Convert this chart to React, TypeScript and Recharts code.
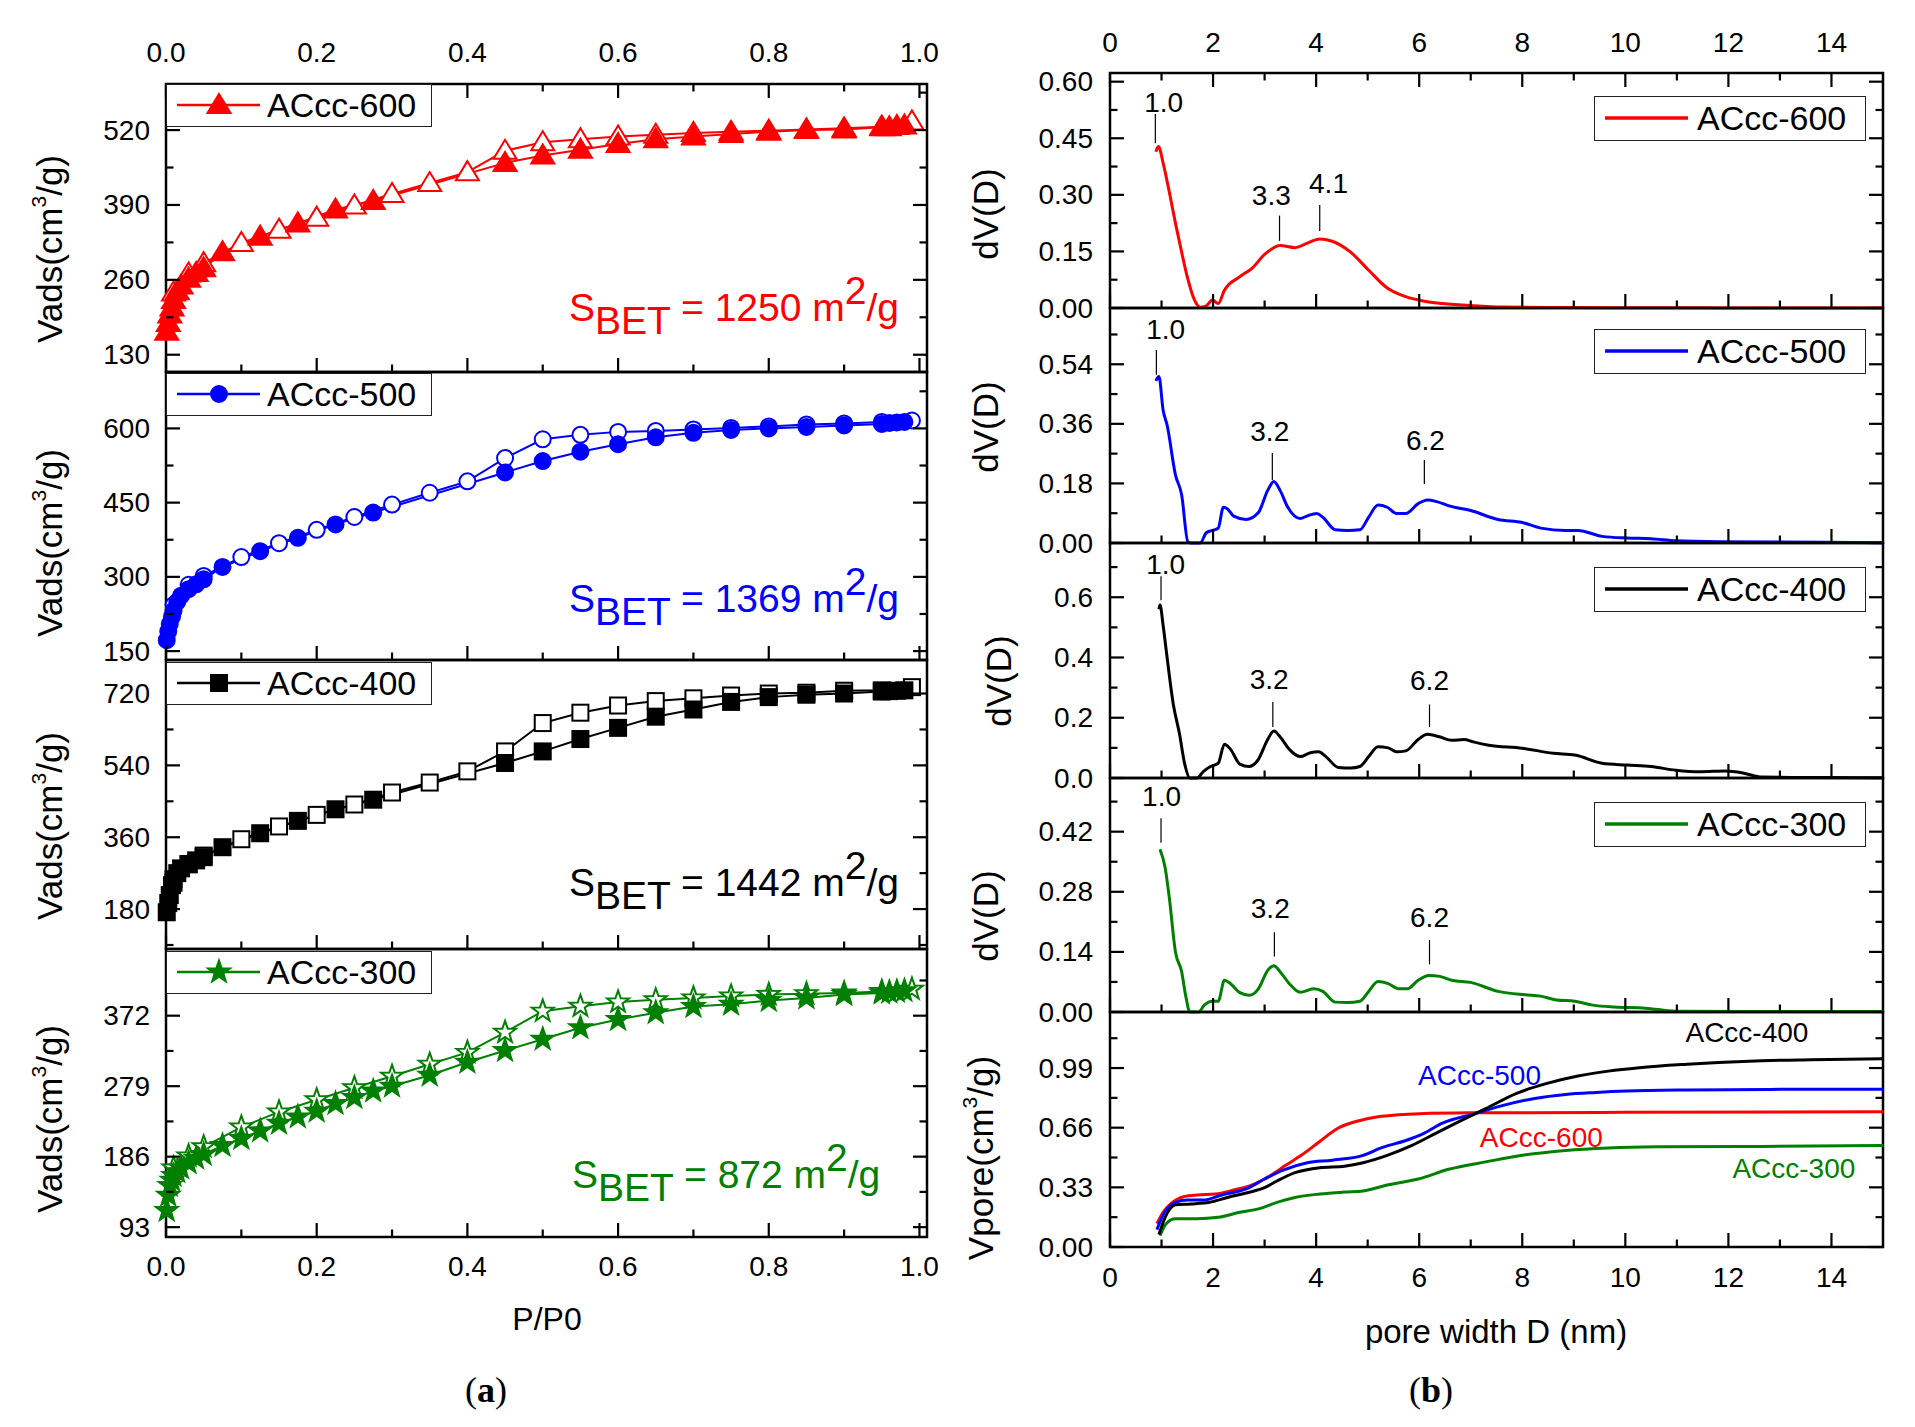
import React from 'react';
import { LineChart, Line, XAxis, YAxis, ReferenceArea } from 'recharts';

const FONT = "'Liberation Sans', Arial, Helvetica, sans-serif";
const SERIF = "'Liberation Serif', 'Times New Roman', serif";
const RED = '#ff0000';
const BLUE = '#0000ff';
const BLACK = '#000000';
const GREEN = '#008000';

// ---------------- (a) N2 isotherms: P/P0 vs Vads ----------------
const lowP = [0.001, 0.003, 0.005, 0.008, 0.01, 0.015, 0.02, 0.03, 0.04, 0.05];
const adsP = [0.075, 0.125, 0.175, 0.225, 0.275, 0.45, 0.5, 0.55, 0.6, 0.65, 0.7, 0.75, 0.8, 0.85, 0.9, 0.95, 0.96, 0.97, 0.98];
const ads300P = [0.075, 0.1, 0.125, 0.15, 0.175, 0.2, 0.225, 0.25, 0.275, 0.3, 0.35, 0.4, 0.45, 0.5, 0.55, 0.6, 0.65, 0.7, 0.75, 0.8, 0.85, 0.9, 0.95, 0.96, 0.97, 0.98];
const desP = [0.99, 0.95, 0.9, 0.85, 0.8, 0.75, 0.7, 0.65, 0.6, 0.55, 0.5, 0.45, 0.4, 0.35, 0.3, 0.25, 0.2, 0.15, 0.1, 0.05, 0.03, 0.01];

const ads600Low = [170, 185, 200, 212, 225, 240, 250, 262, 272, 280];
const ads600 = [308, 335, 358, 382, 397, 463, 476, 486, 496, 504, 509, 513, 517, 520, 521, 525, 525, 527, 528];
const des600 = [535, 526, 523, 521, 519, 517, 515, 512, 509, 504, 499, 484, 447, 428, 409, 389, 368, 347, 324, 289, 271, 238];

const ads500Low = [172, 190, 205, 220, 232, 250, 262, 275, 285, 295];
const ads500 = [320, 352, 379, 406, 430, 511, 534, 553, 568, 582, 591, 597, 600, 603, 606, 609, 611, 612, 613];
const des500 = [616, 613, 610, 608, 604, 601, 598, 595, 593, 587, 578, 540, 493, 470, 446, 421, 395, 368, 340, 302, 284, 243];

const ads400Low = [172, 195, 215, 240, 255, 270, 282, 293, 302, 310];
const ads400 = [335, 370, 401, 430, 454, 546, 575, 606, 634, 662, 680, 699, 711, 717, 720, 725, 726, 727, 728];
const des400 = [736, 728, 727, 722, 720, 715, 708, 701, 690, 672, 646, 575, 525, 497, 472, 442, 416, 387, 355, 314, 292, 246];

const ads300Low = [115, 135, 148, 155, 161, 166, 171, 178, 184, 189];
const ads300 = [200.6, 210, 220, 230, 238.5, 246, 256, 264, 272.5, 279, 293.5, 310.5, 326, 341, 356, 367, 376, 384, 387, 392, 395.5, 400, 402, 403, 404, 405];
const des300 = [407, 404, 402, 401, 400, 398, 395.5, 393, 390, 384.5, 378, 350, 323.6, 308, 292, 277, 261, 245, 225, 199, 187, 171];

// ---------------- (b) pore size distributions ----------------
const psd600D = [0.89, 0.94, 1.03, 1.15, 1.27, 1.39, 1.51, 1.63, 1.75, 1.87, 1.99, 2.1, 2.22, 2.52, 2.76, 3.0, 3.3, 3.59, 3.83, 4.07, 4.31, 4.67, 5.02, 5.38, 5.74, 6.1, 6.45, 7.05, 7.65, 8.84, 10, 12, 15];
const psd600V = [0.414, 0.428, 0.385, 0.308, 0.225, 0.148, 0.077, 0.024, 0.002, 0.006, 0.021, 0.012, 0.047, 0.083, 0.106, 0.142, 0.166, 0.16, 0.172, 0.183, 0.177, 0.148, 0.1, 0.053, 0.03, 0.018, 0.012, 0.006, 0.0024, 0.001, 0.0005, 0.0003, 0.0002];

const psd500D = [0.89, 0.95, 1.03, 1.11, 1.27, 1.39, 1.51, 1.57, 1.75, 1.87, 1.99, 2.1, 2.2, 2.28, 2.4, 2.64, 2.88, 3.06, 3.18, 3.3, 3.45, 3.69, 3.83, 4.01, 4.13, 4.37, 4.61, 4.85, 5.02, 5.2, 5.38, 5.56, 5.74, 5.98, 6.16, 6.34, 6.58, 7.0, 7.53, 8.0, 8.36, 8.84, 9.08, 9.55, 10.03, 10.5, 10.98, 11.82, 13.0, 15];
const psd500V = [0.49, 0.503, 0.402, 0.355, 0.206, 0.146, 0.004, 0, 0, 0.031, 0.038, 0.045, 0.108, 0.103, 0.081, 0.071, 0.092, 0.159, 0.186, 0.159, 0.108, 0.074, 0.082, 0.089, 0.078, 0.04, 0.038, 0.04, 0.078, 0.115, 0.108, 0.089, 0.089, 0.119, 0.13, 0.125, 0.112, 0.098, 0.071, 0.062, 0.045, 0.038, 0.038, 0.02, 0.015, 0.013, 0.007, 0.004, 0.003, 0.001];

const psd400D = [0.95, 0.97, 1.03, 1.09, 1.23, 1.35, 1.45, 1.55, 1.69, 1.81, 1.95, 2.1, 2.22, 2.34, 2.52, 2.7, 2.88, 3.06, 3.18, 3.3, 3.48, 3.69, 3.89, 4.05, 4.19, 4.43, 4.67, 4.85, 5.02, 5.2, 5.4, 5.56, 5.74, 5.98, 6.16, 6.39, 6.63, 6.87, 7.05, 7.35, 8.0, 8.6, 9.02, 9.55, 10.03, 10.5, 10.98, 11.46, 11.94, 12.3, 12.65, 13.6, 15];
const psd400V = [0.56, 0.574, 0.508, 0.425, 0.243, 0.145, 0.046, 0, 0, 0.021, 0.038, 0.049, 0.112, 0.095, 0.046, 0.038, 0.062, 0.128, 0.156, 0.137, 0.095, 0.071, 0.084, 0.087, 0.071, 0.035, 0.033, 0.038, 0.071, 0.104, 0.1, 0.087, 0.09, 0.128, 0.145, 0.137, 0.125, 0.128, 0.12, 0.109, 0.099, 0.082, 0.076, 0.049, 0.043, 0.038, 0.026, 0.021, 0.023, 0.016, 0.003, 0.0016, 0.0005];

const psd300D = [0.97, 1.07, 1.15, 1.27, 1.39, 1.47, 1.55, 1.72, 1.83, 1.99, 2.1, 2.22, 2.34, 2.52, 2.7, 2.88, 3.06, 3.18, 3.3, 3.48, 3.69, 3.95, 4.13, 4.37, 4.61, 4.85, 5.02, 5.2, 5.4, 5.6, 5.77, 5.98, 6.19, 6.4, 6.63, 7.0, 7.53, 8.06, 8.36, 8.66, 9.02, 9.37, 9.79, 10.39, 10.98, 12.4, 15];
const psd300V = [0.379, 0.336, 0.267, 0.14, 0.094, 0.037, 0, 0, 0.016, 0.025, 0.025, 0.074, 0.066, 0.045, 0.039, 0.054, 0.097, 0.108, 0.094, 0.066, 0.046, 0.054, 0.048, 0.023, 0.022, 0.025, 0.048, 0.071, 0.066, 0.054, 0.054, 0.074, 0.085, 0.083, 0.074, 0.069, 0.048, 0.04, 0.037, 0.028, 0.025, 0.016, 0.0115, 0.009, 0.002, 0.001, 0.001];

// cumulative pore volume
const vp600D = [0.91, 1.03, 1.21, 1.45, 1.69, 2.04, 2.4, 2.76, 3.12, 3.41, 3.71, 4.07, 4.43, 4.85, 5.2, 5.6, 6.0, 7.0, 10.0, 15];
const vp600V = [0.129, 0.192, 0.247, 0.28, 0.288, 0.293, 0.315, 0.343, 0.397, 0.452, 0.507, 0.584, 0.658, 0.7, 0.72, 0.731, 0.737, 0.742, 0.745, 0.748];
const vp500D = [0.91, 1.03, 1.27, 1.51, 1.81, 2.17, 2.64, 3.0, 3.36, 3.83, 4.31, 4.91, 5.26, 5.74, 6.1, 6.45, 7.05, 7.65, 8.24, 8.84, 9.43, 10.03, 11.2, 13.0, 15];
const vp500V = [0.096, 0.178, 0.247, 0.26, 0.26, 0.288, 0.321, 0.376, 0.425, 0.466, 0.48, 0.507, 0.548, 0.589, 0.63, 0.685, 0.735, 0.785, 0.822, 0.844, 0.855, 0.863, 0.869, 0.872, 0.873];
const vp400D = [0.95, 1.07, 1.27, 1.57, 1.93, 2.28, 2.76, 3.0, 3.24, 3.59, 4.07, 4.55, 4.91, 5.38, 5.86, 6.33, 6.82, 7.29, 7.89, 8.48, 9.08, 9.67, 10.27, 11.2, 12.4, 13.6, 15];
const vp400V = [0.069, 0.164, 0.233, 0.238, 0.247, 0.274, 0.307, 0.329, 0.365, 0.411, 0.439, 0.447, 0.466, 0.507, 0.562, 0.63, 0.7, 0.765, 0.85, 0.905, 0.946, 0.973, 0.992, 1.011, 1.028, 1.036, 1.042];
const vp300D = [0.97, 1.09, 1.27, 1.69, 2.1, 2.52, 2.88, 3.24, 3.59, 4.07, 4.55, 4.91, 5.38, 5.98, 6.57, 7.29, 8.0, 8.84, 9.67, 10.62, 12.4, 15];
const vp300V = [0.063, 0.129, 0.156, 0.156, 0.164, 0.192, 0.211, 0.247, 0.274, 0.293, 0.304, 0.31, 0.343, 0.376, 0.43, 0.471, 0.507, 0.534, 0.548, 0.554, 0.556, 0.562];

// peak annotations: [label, textX, textY, lineX, lineY0, lineY1]
const notes600: [string, number, number, number, number, number][] = [
  ['1.0', 1.04, 0.546, 0.88, 0.437, 0.514],
  ['3.3', 3.13, 0.297, 3.29, 0.178, 0.245],
  ['4.1', 4.24, 0.331, 4.07, 0.204, 0.273],
];
const notes500: [string, number, number, number, number, number][] = [
  ['1.0', 1.08, 0.644, 0.9, 0.508, 0.583],
  ['3.2', 3.1, 0.338, 3.15, 0.19, 0.272],
  ['6.2', 6.12, 0.311, 6.1, 0.178, 0.251],
];
const notes400: [string, number, number, number, number, number][] = [
  ['1.0', 1.08, 0.708, 0.99, 0.59, 0.67],
  ['3.2', 3.09, 0.326, 3.16, 0.169, 0.252],
  ['6.2', 6.2, 0.323, 6.2, 0.169, 0.244],
];
const notes300: [string, number, number, number, number, number][] = [
  ['1.0', 1.0, 0.501, 0.99, 0.394, 0.451],
  ['3.2', 3.11, 0.241, 3.19, 0.129, 0.186],
  ['6.2', 6.2, 0.221, 6.2, 0.111, 0.168],
];
const vporeLabels: [string, number, number, string][] = [
  ['ACcc-400', 12.36, 1.186, BLACK],
  ['ACcc-500', 7.17, 0.946, BLUE],
  ['ACcc-600', 8.37, 0.603, RED],
  ['ACcc-300', 13.27, 0.437, GREEN],
];

type Pt = { x: number; y: number };
const zip = (xs: number[], ys: number[]): Pt[] => xs.map((x, i) => ({ x, y: ys[i] }));

function starPath(cx: number, cy: number, R: number, r: number) {
  let d = '';
  for (let i = 0; i < 10; i++) {
    const a = -Math.PI / 2 + (i * Math.PI) / 5;
    const rad = i % 2 === 0 ? R : r;
    d += (i ? 'L' : 'M') + (cx + rad * Math.cos(a)).toFixed(2) + ',' + (cy + rad * Math.sin(a)).toFixed(2);
  }
  return d + 'Z';
}

function markerEl(shape: string, cx: number, cy: number, color: string, filled: boolean, key?: string) {
  const common = { fill: filled ? color : '#ffffff', stroke: color, strokeWidth: 2 };
  if (shape === 'triangle')
    return <polygon key={key} points={`${cx},${cy - 11} ${cx - 11.5},${cy + 8} ${cx + 11.5},${cy + 8}`} {...common} />;
  if (shape === 'circle') return <circle key={key} cx={cx} cy={cy} r={8} {...common} />;
  if (shape === 'square') return <rect key={key} x={cx - 8} y={cy - 8} width={16} height={16} {...common} />;
  return <path key={key} d={starPath(cx, cy, 11.5, 4.6)} {...common} />;
}

type SeriesDef = {
  id: string;
  pts: Pt[];
  color: string;
  width: number;
  curve: 'linear' | 'monotone';
  shape?: string;
  filled?: boolean;
  text?: string;
  textSize?: number;
};

type PanelProps = {
  left: number;
  top: number;
  w: number;
  h: number;
  xDomain: [number, number];
  yDomain: [number, number];
  xMajor: number[];
  xMinor: number[];
  yMajor: number[];
  yMinor: number[];
  xFmt: (v: number) => string;
  yFmt: (v: number) => string;
  topTicks: boolean;
  topLabels: boolean;
  bottomLabels: boolean;
  topLabelOff: number;
  bottomLabelOff: number;
  yLabelGap: number;
  series: SeriesDef[];
};

function Panel(p: PanelProps) {
  const padL = 120, padR = 12, padT = 50, padB = 50;
  const { w, h } = p;
  const near = (arr: number[], v: number) => arr.some((a) => Math.abs(a - v) < 1e-9);
  const yTicks = [...p.yMajor, ...p.yMinor].sort((a, b) => a - b);
  const xTicks = [...p.xMajor, ...p.xMinor].sort((a, b) => a - b);
  const bottom = padT + h;

  const renderYTick = (t: any) => {
    const v = t.payload.value;
    const y = t.y;
    const maj = near(p.yMajor, v);
    const len = maj ? 14 : 7.5;
    return (
      <g>
        <line x1={padL} x2={padL + len} y1={y} y2={y} stroke="#000" strokeWidth={2.2} />
        <line x1={padL + w} x2={padL + w - len} y1={y} y2={y} stroke="#000" strokeWidth={2.2} />
        {maj ? (
          <text x={padL - p.yLabelGap} y={y} textAnchor="end" dominantBaseline="central" fontFamily={FONT} fontSize={28} fill="#000">
            {p.yFmt(v)}
          </text>
        ) : null}
      </g>
    );
  };

  const renderXTick = (t: any) => {
    const v = t.payload.value;
    const x = t.x;
    const maj = near(p.xMajor, v);
    const len = maj ? 14 : 7.5;
    return (
      <g>
        <line x1={x} x2={x} y1={bottom} y2={bottom - len} stroke="#000" strokeWidth={2.2} />
        {p.topTicks ? <line x1={x} x2={x} y1={padT} y2={padT + len} stroke="#000" strokeWidth={2.2} /> : null}
        {maj && p.bottomLabels ? (
          <text x={x} y={bottom + p.bottomLabelOff} textAnchor="middle" dominantBaseline="central" fontFamily={FONT} fontSize={28} fill="#000">
            {p.xFmt(v)}
          </text>
        ) : null}
        {maj && p.topLabels ? (
          <text x={x} y={padT - p.topLabelOff} textAnchor="middle" dominantBaseline="central" fontFamily={FONT} fontSize={28} fill="#000">
            {p.xFmt(v)}
          </text>
        ) : null}
      </g>
    );
  };

  return (
    <div style={{ position: 'absolute', left: p.left - padL, top: p.top - padT }}>
      <LineChart width={padL + w + padR} height={padT + h + padB} margin={{ top: padT, right: padR, bottom: 0, left: 0 }}>
        <XAxis
          type="number"
          dataKey="x"
          domain={p.xDomain}
          ticks={xTicks}
          interval={0}
          height={padB}
          tick={renderXTick}
          tickLine={false}
          axisLine={false}
        />
        <YAxis
          type="number"
          domain={p.yDomain}
          ticks={yTicks}
          interval={0}
          width={padL}
          tick={renderYTick}
          tickLine={false}
          axisLine={false}
        />
        <ReferenceArea
          x1={p.xDomain[0]}
          x2={p.xDomain[1]}
          y1={p.yDomain[0]}
          y2={p.yDomain[1]}
          fill="none"
          fillOpacity={0}
          stroke="#000"
          strokeWidth={2.5}
          ifOverflow="visible"
        />
        {p.series.map((s) => {
          let dot: any = false;
          if (s.text) {
            dot = (d: any) => (
              <text key={`t${s.id}${d.index}`} x={d.cx} y={d.cy} textAnchor="middle" dominantBaseline="central" fontFamily={FONT} fontSize={s.textSize || 28} fill={s.color}>
                {s.text}
              </text>
            );
          } else if (s.shape) {
            dot = (d: any) => markerEl(s.shape as string, d.cx, d.cy, s.color, !!s.filled, `m${s.id}${d.index}`);
          }
          return (
            <Line
              key={s.id}
              data={s.pts}
              dataKey="y"
              type={s.curve}
              stroke={s.text ? 'none' : s.color}
              strokeWidth={s.width}
              dot={dot}
              activeDot={false}
              isAnimationActive={false}
            />
          );
        })}
      </LineChart>
    </div>
  );
}

// ---------- layout ----------
const L_LEFT = 166, L_W = 761;
const R_LEFT = 1110, R_W = 773;
const fmt1 = (v: number) => v.toFixed(1);
const fmt0 = (v: number) => String(Math.round(v));
const fmt2 = (v: number) => v.toFixed(2);
const fmtInt = (v: number) => String(v);

const leftX = { xDomain: [0, 1.01] as [number, number], xMajor: [0, 0.2, 0.4, 0.6, 0.8, 1.0], xMinor: [0.1, 0.3, 0.5, 0.7, 0.9] };
const rightX = { xDomain: [0, 15] as [number, number], xMajor: [0, 2, 4, 6, 8, 10, 12, 14], xMinor: [1, 3, 5, 7, 9, 11, 13] };

function isoSeries(id: string, color: string, shape: string, aP: number[], aV: number[], dP: number[], dV: number[]): SeriesDef[] {
  return [
    { id: id + 'd', pts: zip(dP, dV), color, width: 2, curve: 'linear', shape, filled: false },
    { id: id + 'a', pts: zip(aP, aV), color, width: 2, curve: 'linear', shape, filled: true },
  ];
}

function noteSeries(id: string, notes: [string, number, number, number, number, number][]): SeriesDef[] {
  const out: SeriesDef[] = [];
  notes.forEach((n, i) => {
    out.push({ id: `${id}l${i}`, pts: [{ x: n[3], y: n[4] }, { x: n[3], y: n[5] }], color: '#000', width: 1.2, curve: 'linear' });
    out.push({ id: `${id}t${i}`, pts: [{ x: n[1], y: n[2] }], color: '#000', width: 0, curve: 'linear', text: n[0], textSize: 28 });
  });
  return out;
}

const leftPanels = [
  { top: 84, h: 288, yDomain: [100, 600] as [number, number], yMajor: [130, 260, 390, 520], yMinor: [195, 325, 455, 585], series: isoSeries('600', RED, 'triangle', [...lowP, ...adsP], [...ads600Low, ...ads600], desP, des600) },
  { top: 372, h: 288, yDomain: [132, 714] as [number, number], yMajor: [150, 300, 450, 600], yMinor: [225, 375, 525, 675], series: isoSeries('500', BLUE, 'circle', [...lowP, ...adsP], [...ads500Low, ...ads500], desP, des500) },
  { top: 660, h: 289, yDomain: [80, 804] as [number, number], yMajor: [180, 360, 540, 720], yMinor: [90, 270, 450, 630], series: isoSeries('400', BLACK, 'square', [...lowP, ...adsP], [...ads400Low, ...ads400], desP, des400) },
  { top: 949, h: 288, yDomain: [80, 460] as [number, number], yMajor: [93, 186, 279, 372], yMinor: [139.5, 232.5, 325.5, 418.5], series: isoSeries('300', GREEN, 'star', [...lowP, ...ads300P], [...ads300Low, ...ads300], desP, des300) },
];

const rightPanels = [
  { top: 73, h: 235, yDomain: [0, 0.623] as [number, number], yMajor: [0, 0.15, 0.3, 0.45, 0.6], yMinor: [0.075, 0.225, 0.375, 0.525], yFmt: fmt2,
    series: [{ id: 'p600', pts: zip(psd600D, psd600V), color: RED, width: 3, curve: 'monotone' } as SeriesDef, ...noteSeries('n600', notes600)] },
  { top: 308, h: 235, yDomain: [0, 0.71] as [number, number], yMajor: [0, 0.18, 0.36, 0.54], yMinor: [0.09, 0.27, 0.45, 0.63], yFmt: fmt2,
    series: [{ id: 'p500', pts: zip(psd500D, psd500V), color: BLUE, width: 3, curve: 'monotone' } as SeriesDef, ...noteSeries('n500', notes500)] },
  { top: 543, h: 235, yDomain: [0, 0.78] as [number, number], yMajor: [0, 0.2, 0.4, 0.6], yMinor: [0.1, 0.3, 0.5, 0.7], yFmt: fmt1,
    series: [{ id: 'p400', pts: zip(psd400D, psd400V), color: BLACK, width: 3, curve: 'monotone' } as SeriesDef, ...noteSeries('n400', notes400)] },
  { top: 778, h: 234, yDomain: [0, 0.545] as [number, number], yMajor: [0, 0.14, 0.28, 0.42], yMinor: [0.07, 0.21, 0.35, 0.49], yFmt: fmt2,
    series: [{ id: 'p300', pts: zip(psd300D, psd300V), color: GREEN, width: 3, curve: 'monotone' } as SeriesDef, ...noteSeries('n300', notes300)] },
  { top: 1012, h: 235, yDomain: [0, 1.3] as [number, number], yMajor: [0, 0.33, 0.66, 0.99], yMinor: [0.165, 0.495, 0.825, 1.155], yFmt: fmt2,
    series: [
      { id: 'v300', pts: zip(vp300D, vp300V), color: GREEN, width: 3, curve: 'monotone' } as SeriesDef,
      { id: 'v600', pts: zip(vp600D, vp600V), color: RED, width: 3, curve: 'monotone' } as SeriesDef,
      { id: 'v500', pts: zip(vp500D, vp500V), color: BLUE, width: 3, curve: 'monotone' } as SeriesDef,
      { id: 'v400', pts: zip(vp400D, vp400V), color: BLACK, width: 3, curve: 'monotone' } as SeriesDef,
      ...vporeLabels.map((l, i) => ({ id: `vl${i}`, pts: [{ x: l[1], y: l[2] }], color: l[3], width: 0, curve: 'linear', text: l[0], textSize: 28 } as SeriesDef)),
    ] },
];

function IsoLegend({ top, color, shape, label }: { top: number; color: string; shape: string; label: string }) {
  return (
    <div style={{ position: 'absolute', left: 166, top, width: 266, height: 43, boxSizing: 'border-box', border: '1.5px solid #222', background: '#fff' }}>
      <svg width={100} height={40} style={{ position: 'absolute', left: 0, top: 0 }}>
        <line x1={10} x2={93} y1={20} y2={20} stroke={color} strokeWidth={2.5} />
        {markerEl(shape, 52, 20, color, true)}
      </svg>
      <span style={{ position: 'absolute', left: 100, top: 0, lineHeight: '40px', fontFamily: FONT, fontSize: 34, color: '#000', whiteSpace: 'nowrap' }}>{label}</span>
    </div>
  );
}

function PsdLegend({ top, color, label }: { top: number; color: string; label: string }) {
  return (
    <div style={{ position: 'absolute', left: 1594, top, width: 272, height: 45, boxSizing: 'border-box', border: '1.5px solid #222', background: '#fff' }}>
      <svg width={100} height={42} style={{ position: 'absolute', left: 0, top: 0 }}>
        <line x1={10} x2={93} y1={21} y2={21} stroke={color} strokeWidth={3.5} />
      </svg>
      <span style={{ position: 'absolute', left: 102, top: 0, lineHeight: '42px', fontFamily: FONT, fontSize: 34, color: '#000', whiteSpace: 'nowrap' }}>{label}</span>
    </div>
  );
}

function Sbet({ x, baseline, color, value }: { x: number; baseline: number; color: string; value: string }) {
  return (
    <div style={{ position: 'absolute', left: x, top: baseline - 33.5, fontFamily: FONT, fontSize: 39, lineHeight: '40px', color, whiteSpace: 'nowrap' }}>
      S<span style={{ position: 'relative', top: 13 }}>BET</span> = {value} m<span style={{ position: 'relative', top: -17 }}>2</span>/g
    </div>
  );
}

function VTitle({ x, y, children, size = 35 }: { x: number; y: number; children: React.ReactNode; size?: number }) {
  return (
    <div
      style={{
        position: 'absolute',
        left: x,
        top: y,
        transform: 'translate(-50%, -50%) rotate(-90deg)',
        fontFamily: FONT,
        fontSize: size,
        lineHeight: 1,
        whiteSpace: 'nowrap',
        color: '#000',
      }}
    >
      {children}
    </div>
  );
}

const sup3 = <span style={{ fontSize: '0.6em', position: 'relative', top: '-0.75em' }}>3</span>;

export default function App() {
  return (
    <div style={{ position: 'absolute', left: 0, top: 0, width: 1915, height: 1427, background: '#ffffff', overflow: 'hidden' }}>
      {leftPanels.map((lp, i) => (
        <Panel
          key={`L${i}`}
          left={L_LEFT}
          top={lp.top}
          w={L_W}
          h={lp.h}
          {...leftX}
          yDomain={lp.yDomain}
          yMajor={lp.yMajor}
          yMinor={lp.yMinor}
          xFmt={fmt1}
          yFmt={fmt0}
          topTicks={i === 0}
          topLabels={i === 0}
          bottomLabels={i === 3}
          topLabelOff={32}
          bottomLabelOff={29}
          yLabelGap={16}
          series={lp.series}
        />
      ))}
      {rightPanels.map((rp, i) => (
        <Panel
          key={`R${i}`}
          left={R_LEFT}
          top={rp.top}
          w={R_W}
          h={rp.h}
          {...rightX}
          yDomain={rp.yDomain}
          yMajor={rp.yMajor}
          yMinor={rp.yMinor}
          xFmt={fmtInt}
          yFmt={rp.yFmt}
          topTicks={i === 0}
          topLabels={i === 0}
          bottomLabels={i === 4}
          topLabelOff={31}
          bottomLabelOff={30}
          yLabelGap={17}
          series={rp.series}
        />
      ))}

      <IsoLegend top={84} color={RED} shape="triangle" label="ACcc-600" />
      <IsoLegend top={373} color={BLUE} shape="circle" label="ACcc-500" />
      <IsoLegend top={662} color={BLACK} shape="square" label="ACcc-400" />
      <IsoLegend top={951} color={GREEN} shape="star" label="ACcc-300" />

      <PsdLegend top={96} color={RED} label="ACcc-600" />
      <PsdLegend top={329} color={BLUE} label="ACcc-500" />
      <PsdLegend top={567} color={BLACK} label="ACcc-400" />
      <PsdLegend top={802} color={GREEN} label="ACcc-300" />

      <Sbet x={569} baseline={321} color={RED} value="1250" />
      <Sbet x={569} baseline={612} color={BLUE} value="1369" />
      <Sbet x={569} baseline={896} color={BLACK} value="1442" />
      <Sbet x={572} baseline={1188} color={GREEN} value="872" />

      <VTitle x={49} y={249}>Vads(cm{sup3}/g)</VTitle>
      <VTitle x={49} y={543}>Vads(cm{sup3}/g)</VTitle>
      <VTitle x={49} y={826}>Vads(cm{sup3}/g)</VTitle>
      <VTitle x={49} y={1119}>Vads(cm{sup3}/g)</VTitle>

      <VTitle x={985} y={214}>dV(D)</VTitle>
      <VTitle x={985} y={427}>dV(D)</VTitle>
      <VTitle x={998} y={681}>dV(D)</VTitle>
      <VTitle x={985} y={916}>dV(D)</VTitle>
      <VTitle x={980} y={1158}>Vpore(cm{sup3}/g)</VTitle>

      <div style={{ position: 'absolute', left: 547, top: 1319, transform: 'translate(-50%, -50%)', fontFamily: FONT, fontSize: 32, whiteSpace: 'nowrap' }}>P/P0</div>
      <div style={{ position: 'absolute', left: 1496, top: 1332, transform: 'translate(-50%, -50%)', fontFamily: FONT, fontSize: 33, whiteSpace: 'nowrap' }}>pore width D (nm)</div>

      <div style={{ position: 'absolute', left: 486, top: 1390, transform: 'translate(-50%, -50%)', fontFamily: SERIF, fontSize: 36, whiteSpace: 'nowrap' }}>
        (<b>a</b>)
      </div>
      <div style={{ position: 'absolute', left: 1431, top: 1390, transform: 'translate(-50%, -50%)', fontFamily: SERIF, fontSize: 36, whiteSpace: 'nowrap' }}>
        (<b>b</b>)
      </div>
    </div>
  );
}
